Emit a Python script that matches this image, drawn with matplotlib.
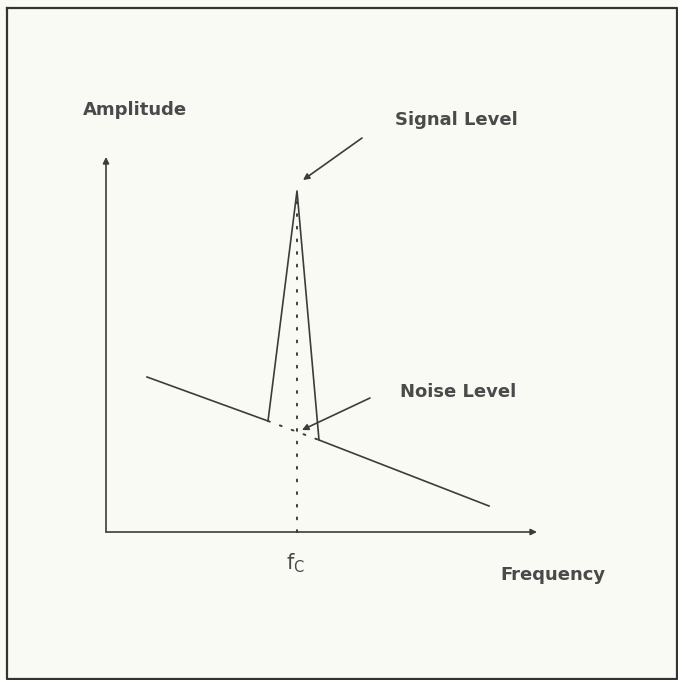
import matplotlib.pyplot as plt

# frequency / amplitude in arbitrary units (origin at the axes corner)
noise_left_f = [41, 162]
noise_left_a = [155, 111]
peak_f = [162, 191, 213]
peak_a = [111, 341, 92]
noise_right_f = [213, 383]
noise_right_a = [92, 26]
noise_hidden_f = [162, 213]
noise_hidden_a = [111, 92]
fc = 191
signal_level = 341
axis_f_max = 431
axis_a_max = 375

ox, oy = 106, 532  # origin in pixels

fig = plt.figure(figsize=(6.78, 6.80), dpi=100)
fig.patch.set_facecolor('#fafaf5')
ax = fig.add_axes([0, 0, 1, 1])
ax.set_xlim(-ox, 678 - ox)
ax.set_ylim(oy - 680, oy)
ax.axis('off')

ink = '#3c3c3c'
txt = '#4a4a4a'
arrow = dict(arrowstyle='-|>', color=ink, lw=1.2, mutation_scale=9, shrinkA=0, shrinkB=0)

# frame
ax.plot([7 - ox, 677 - ox, 677 - ox, 7 - ox, 7 - ox],
        [oy - 8, oy - 8, oy - 679, oy - 679, oy - 8], color='#333333', lw=1.6)

# axes with arrows
ax.annotate('', xy=(axis_f_max, 0), xytext=(0, 0), arrowprops=arrow)
ax.annotate('', xy=(0, axis_a_max), xytext=(0, 0), arrowprops=arrow)

# spectrum
ax.plot(noise_left_f, noise_left_a, color=ink, lw=1.2)
ax.plot(peak_f, peak_a, color=ink, lw=1.2)
ax.plot(noise_right_f, noise_right_a, color=ink, lw=1.2)
ax.plot(noise_hidden_f, noise_hidden_a, color=ink, lw=1.4, ls=(0, (1, 5.5)),
        dash_capstyle='round')
ax.plot([fc, fc], [0, signal_level], color=ink, lw=1.4, ls=(0, (1, 5.5)),
        dash_capstyle='round')

# labels
lab = dict(fontsize=13, fontweight='semibold', color=txt, ha='center', va='center',
           family='DejaVu Sans')
ax.text(135 - ox, oy - 110, 'Amplitude', **lab)
ax.text(553 - ox, oy - 575, 'Frequency', **lab)
ax.text(456 - ox, oy - 120, 'Signal Level', **lab)
ax.text(458 - ox, oy - 392, 'Noise Level', **lab)
ax.text(fc - 1, oy - 563, r'$\mathregular{f_C}$', fontsize=15, color=txt,
        ha='center', va='center')

ax.annotate('', xy=(197, 352), xytext=(256, 394), arrowprops=arrow)
ax.annotate('', xy=(196, 102), xytext=(264, 134), arrowprops=arrow)

fig.savefig('out.png', dpi=100, facecolor=fig.get_facecolor())
